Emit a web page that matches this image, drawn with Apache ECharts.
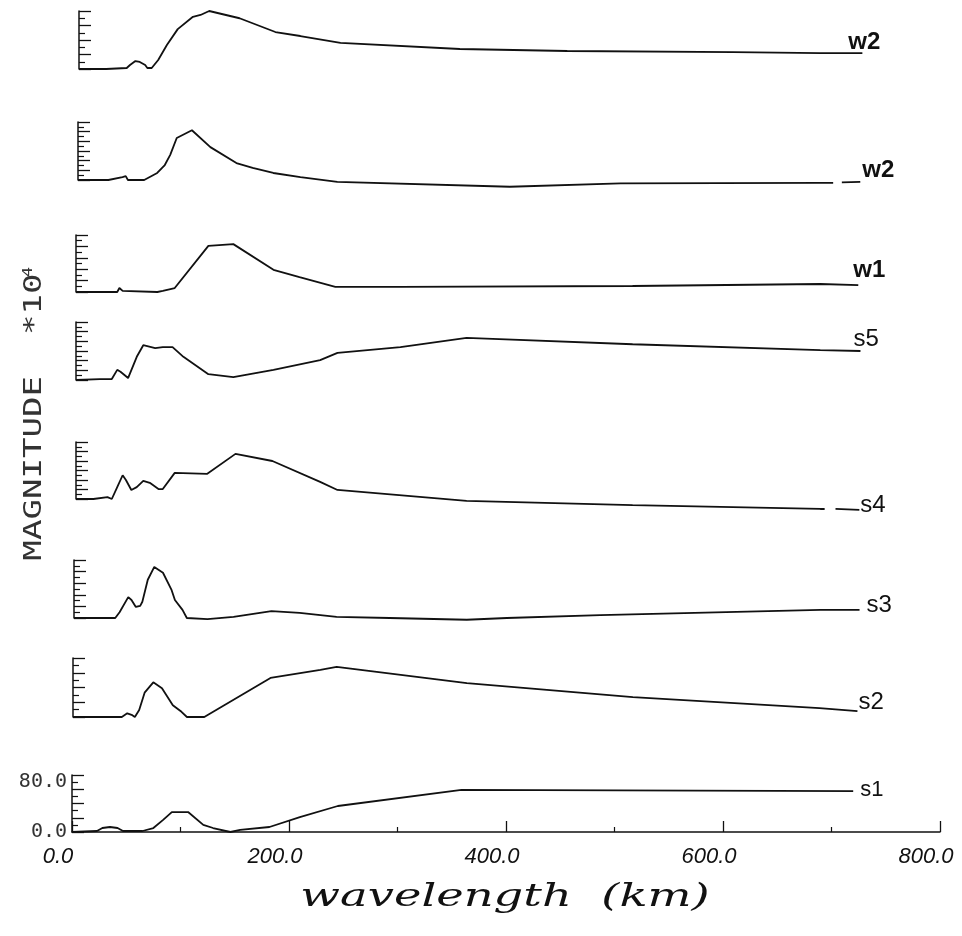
<!DOCTYPE html>
<html>
<head>
<meta charset="utf-8">
<script src="https://cdn.jsdelivr.net/npm/echarts@6/dist/echarts.min.js"></script>
<style>
html,body{margin:0;padding:0;background:#fff;}
#chart{width:962px;height:936px;}
</style>
</head>
<body>
<div id="chart"></div>
<script>
// ---- data: [wavelength (km), magnitude] ----
const panelNames = ['w2', 'w2', 'w1', 's5', 's4', 's3', 's2', 's1'];
const xTickLabels = ['0.0', '200.0', '400.0', '600.0', '800.0'];
const s1AxisLabels = ['0.0', '80.0'];

const w2a = [[0,0],[25,0],[44,1.4],[47,5.5],[52,11],[56,9.7],[61,5.5],[63,1.4],[67,1.4],[73,12.4],[81,33],[91,55],[105,72],[112,74.5],[120,80],[148,70],[181,51],[204,45.5],[241,36],[351,27.6],[450,24.8],[603,23.4],[683,22],[722,22]];
const w2b = [[0,0],[28,0],[41,6],[44,8],[46,0],[61,0],[73,14.5],[80,31],[85,52],[91,87],[105,103],[122,68],[146,35],[161,25],[180,14.5],[205,6],[239,-4],[398,-14],[500,-7],[684,-6],[696,-6],[700,null],[704,-5],[721,-4]];
const w1 = [[0,0],[38,0],[40,7],[41.5,9],[43,2],[75,0],[80,2],[91,7],[122,81],[145,84],[182,39],[206,26],[239,9],[299,9],[513,10.5],[686,14],[721,12]];
const s5 = [[0,0],[22,2],[33,2],[38,21],[41,17],[48,4],[56,48],[62,72],[73,66],[80,68],[89,68],[99,48],[122,12],[145,6],[182,21],[225,41],[241,56],[299,68],[360,87],[384,85],[513,74],[686,62],[723,60]];
const s4 = [[0,0],[16,0],[29,4],[33,0],[38,25],[43,50],[46,40],[51,19],[56,25],[62,38],[68,34],[76,21],[80,21],[91,55],[121,53],[147,95],[181,80],[225,36],[241,19],[360,-4],[513,-13],[686,-21],[690,-21],[695,null],[700,-21],[722,-23]];
const s3 = [[0,0],[38,0],[42,10],[50,36],[53,31],[57,19],[61,21],[63,28],[68,66],[74,88],[82,78],[90,48],[93,31],[100,14],[104,0],[123,-2],[147,2],[182,12],[208,9],[242,2],[291,0],[362,-3],[399,0],[485,5],[688,14],[724,14]];
const s2 = [[0,0],[45,0],[50,5],[54,3],[57,0],[61,9.5],[66,33],[74,47],[82,39],[92,16],[100,7],[105,0],[121,0],[182,53],[228,64],[243,68],[363,46],[516,27],[688,12],[723,8]];
const s1 = [[0,0],[23,1.4],[28,5.6],[35,7],[42,5.6],[47,1.4],[65,1.4],[75,5.6],[84,17],[92,28],[107,28],[121,10],[130,5.6],[146,0],[155,3],[182,7],[210,21],[245,36.5],[359,59],[720,57.5]];
const panelMax = [80, 120, 100, 120, 120, 100, 80, 80];

// ---- layout (positions / styles only) ----
const layout = [
  {left:79, top:11,  bottom:69,  off:[-14,-11], bold:true,  fs:24},
  {left:78, top:122, bottom:180, off:[2,-12],   bold:true,  fs:24},
  {left:76, top:235, bottom:292, off:[-5,-15],  bold:true,  fs:24},
  {left:76, top:322, bottom:380, off:[-7,-12],  bold:false, fs:24},
  {left:76, top:442, bottom:499, off:[1,-5],    bold:false, fs:24},
  {left:74, top:560, bottom:618, off:[7,-5],    bold:false, fs:24},
  {left:73, top:658, bottom:717, off:[1,-9],    bold:false, fs:24},
  {left:72, top:775, bottom:832, off:[7,-1],    bold:false, fs:22}
];
const allData = [w2a, w2b, w1, s5, s4, s3, s2, s1];
const INK = '#111';

const grids = [], xAxes = [], yAxes = [], series = [];
layout.forEach((p, i) => {
  const last = i === layout.length - 1;
  grids.push({left:p.left, top:p.top, width:868, height:p.bottom - p.top, containLabel:false});
  xAxes.push(last ? {
    gridIndex:i, type:'value', min:0, max:800, interval:200,
    axisLine:{show:true, lineStyle:{color:INK, width:1.5}},
    axisTick:{show:true, inside:true, length:11, lineStyle:{color:INK, width:1.3}},
    minorTick:{show:true, splitNumber:2, length:5, lineStyle:{color:INK, width:1.2}},
    splitLine:{show:false}, minorSplitLine:{show:false},
    axisLabel:{show:true, showMinLabel:true, showMaxLabel:true, margin:14, padding:[0,28,0,0],
      formatter:(v) => xTickLabels[Math.round(v/200)] || '',
      fontFamily:'Liberation Sans', fontStyle:'italic', fontSize:22, color:INK}
  } : {gridIndex:i, type:'value', min:0, max:800, show:false});
  yAxes.push({
    gridIndex:i, type:'value', min:0, max:panelMax[i], interval:20,
    axisLine:{show:true, onZero:false, lineStyle:{color:INK, width:1.5}},
    axisTick:{show:true, inside:true, length:12, lineStyle:{color:INK, width:1.3}},
    minorTick:{show:true, splitNumber:2, length:6, lineStyle:{color:INK, width:1.2}},
    splitLine:{show:false}, minorSplitLine:{show:false},
    axisLabel: last ? {show:true, showMinLabel:true, showMaxLabel:true, margin:5,
      formatter:(v) => v === 0 ? '{b|' + s1AxisLabels[0] + '}' : (v === 80 ? '{t|' + s1AxisLabels[1] + '}' : ''),
      rich:{
        t:{fontFamily:'DejaVu Sans Mono', fontSize:20, color:'#333', padding:[14,0,0,0]},
        b:{fontFamily:'DejaVu Sans Mono', fontSize:20, color:'#333'}
      }} : {show:false}
  });
  series.push({
    type:'line', name:panelNames[i], xAxisIndex:i, yAxisIndex:i, data:allData[i],
    showSymbol:false, symbol:'none', clip:false, connectNulls:false, animation:false,
    lineStyle:{color:INK, width:1.8},
    endLabel:{show:true, formatter:panelNames[i], distance:0, offset:p.off,
      fontFamily:'Liberation Sans', fontSize:p.fs, fontWeight:p.bold ? 'bold' : 'normal', color:INK}
  });
});

const chart = echarts.init(document.getElementById('chart'), null, {renderer:'canvas'});
chart.setOption({
  animation:false,
  backgroundColor:'#fff',
  grid:grids, xAxis:xAxes, yAxis:yAxes, series:series,
  graphic:[
    {type:'text', x:35, y:417, rotation:Math.PI/2, scaleX:1.42,
     style:{text:'MAGNITUDE  *10', font:'24px "DejaVu Sans Mono"', fill:'#333', align:'center', verticalAlign:'middle'}},
    {type:'text', x:28, y:272, rotation:Math.PI/2, scaleX:1.2,
     style:{text:'4', font:'14px "DejaVu Sans Mono"', fill:'#333', align:'center', verticalAlign:'middle'}},
    {type:'text', x:505, y:898, scaleX:1.45,
     style:{text:'wavelength  (km)', font:'italic 32px "DejaVu Serif"', fill:INK, align:'center', verticalAlign:'middle'}}
  ]
});
</script>
</body>
</html>
